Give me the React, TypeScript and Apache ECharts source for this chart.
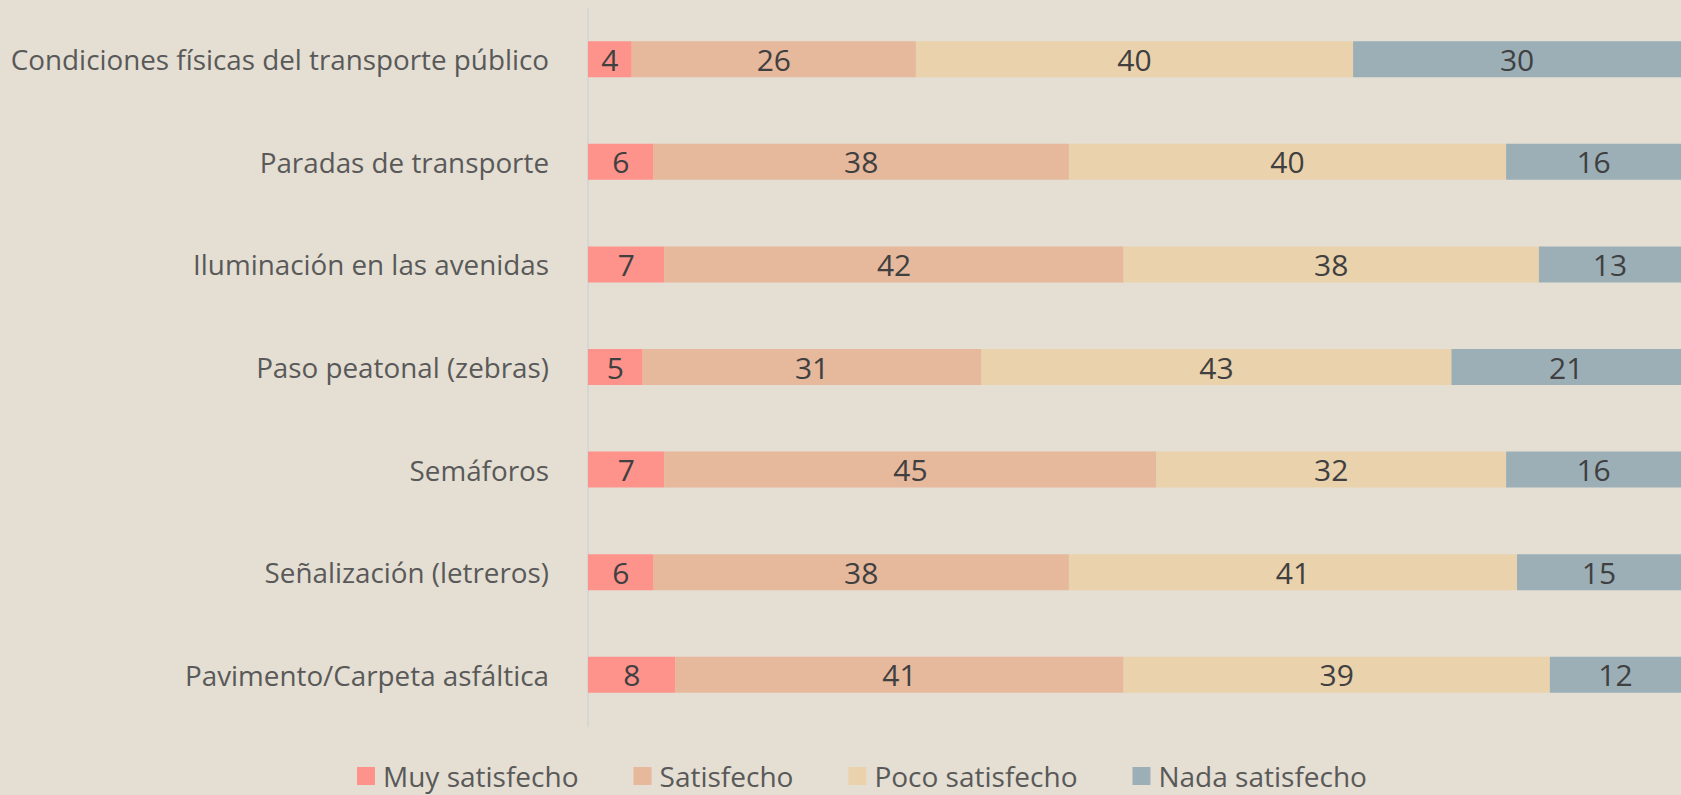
import React, { useEffect, useRef } from "react";
import * as echarts from "echarts";

const categories = [
  "Condiciones físicas del transporte público",
  "Paradas de transporte",
  "Iluminación en las avenidas",
  "Paso peatonal (zebras)",
  "Semáforos",
  "Señalización (letreros)",
  "Pavimento/Carpeta asfáltica",
];
const seriesNames = ["Muy satisfecho", "Satisfecho", "Poco satisfecho", "Nada satisfecho"];
const muySatisfecho = [4, 6, 7, 5, 7, 6, 8];
const satisfecho = [26, 38, 42, 31, 45, 38, 41];
const pocoSatisfecho = [40, 40, 38, 43, 32, 41, 39];
const nadaSatisfecho = [30, 16, 13, 21, 16, 15, 12];
const colors = ["#FE938C", "#E6B89C", "#EAD2AC", "#9CAFB7"];

const FONT = "'Open Sans', 'Noto Sans', sans-serif";

export default function App() {
  const ref = useRef<HTMLDivElement>(null);
  useEffect(() => {
    if (!ref.current) return;
    const chart = echarts.init(ref.current, null, { renderer: "svg" });
    const values = [muySatisfecho, satisfecho, pocoSatisfecho, nadaSatisfecho];
    chart.setOption({
      animation: false,
      backgroundColor: "#E4DED3",
      grid: { left: 588, top: 8, width: 1103, height: 718, containLabel: false },
      legend: {
        data: seriesNames,
        left: 352,
        top: 757,
        itemWidth: 18,
        itemHeight: 18,
        itemGap: 55,
        icon: "rect",
        textStyle: {
          fontFamily: FONT,
          fontSize: 28,
          color: "#595959",
          lineHeight: 28,
          padding: [0, 0, 0, 3],
        },
      },
      xAxis: {
        type: "value",
        min: 0,
        max: 100,
        show: false,
        splitLine: { show: false },
      },
      yAxis: {
        type: "category",
        data: categories,
        inverse: true,
        axisLine: { show: true, lineStyle: { color: "#D2D4D6", width: 1.5 } },
        axisTick: { show: false },
        axisLabel: {
          fontFamily: FONT,
          fontSize: 27.8,
          color: "#595959",
          margin: 39,
        },
      },
      series: seriesNames.map((name, i) => ({
        name,
        type: "bar",
        stack: "total",
        barWidth: 36,
        data: values[i],
        itemStyle: { color: colors[i] },
        label: {
          show: true,
          position: "inside",
          fontFamily: FONT,
          fontSize: 30,
          color: "#404040",
        },
      })),
    });
    return () => chart.dispose();
  }, []);
  return (
    <div
      ref={ref}
      style={{ position: "absolute", left: 0, top: 0, width: 1681, height: 795 }}
    />
  );
}
